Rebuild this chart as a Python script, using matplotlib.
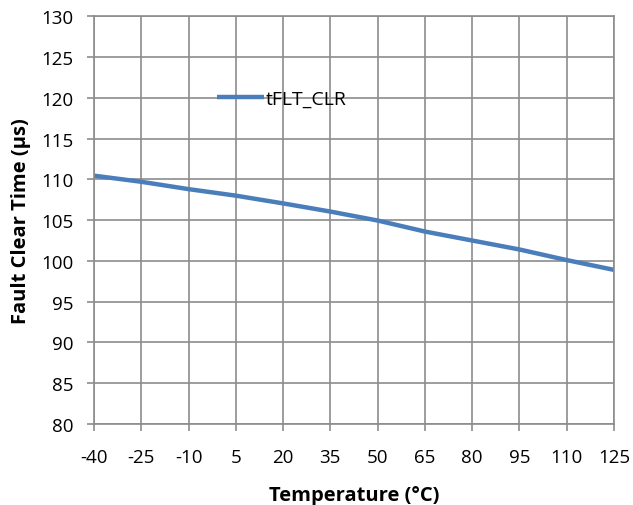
import matplotlib
matplotlib.use('Agg')
import matplotlib.pyplot as plt

temps = [-40, -25, -10, 5, 20, 35, 50, 65, 80, 95, 110, 125]
t_clr = [110.45, 109.7, 108.8, 108.0, 107.05, 106.05, 104.95, 103.6, 102.5, 101.4, 100.1, 98.9]

plt.rcParams['font.family'] = ['Open Sans', 'DejaVu Sans']
plt.rcParams['axes.unicode_minus'] = False

fig = plt.figure(figsize=(6.33, 5.06), dpi=100)
ax = fig.add_axes([0.1485, 0.160, 0.8215, 0.806])

ax.plot(temps, t_clr, color='#4a7ebb', linewidth=3.2, label='tFLT_CLR', solid_capstyle='butt')

ax.set_xlim(-40, 125)
ax.set_ylim(80, 130)
ax.set_xticks(temps)
ax.set_yticks(range(80, 131, 5))
ax.grid(True, color='#8c8c8c', linewidth=1.2)
ax.set_axisbelow(True)
for s in ax.spines.values():
    s.set_color('#8c8c8c')
    s.set_linewidth(1.2)
ax.tick_params(length=5, width=1.2, color='#8c8c8c', labelsize=13.5)
ax.tick_params(axis='x', pad=12)
ax.tick_params(axis='y', pad=10)

ax.set_xlabel('Temperature (°C)', fontsize=14.5, fontweight='bold', labelpad=14)
ax.set_ylabel('Fault Clear Time (µs)', fontsize=14.5, fontweight='bold', labelpad=7)

ax.legend(loc='center left', bbox_to_anchor=(0.2365, 0.797), frameon=False, fontsize=14,
          handlelength=2.4, handletextpad=0.1, borderpad=0, borderaxespad=0)

fig.savefig('out.png', dpi=100)
